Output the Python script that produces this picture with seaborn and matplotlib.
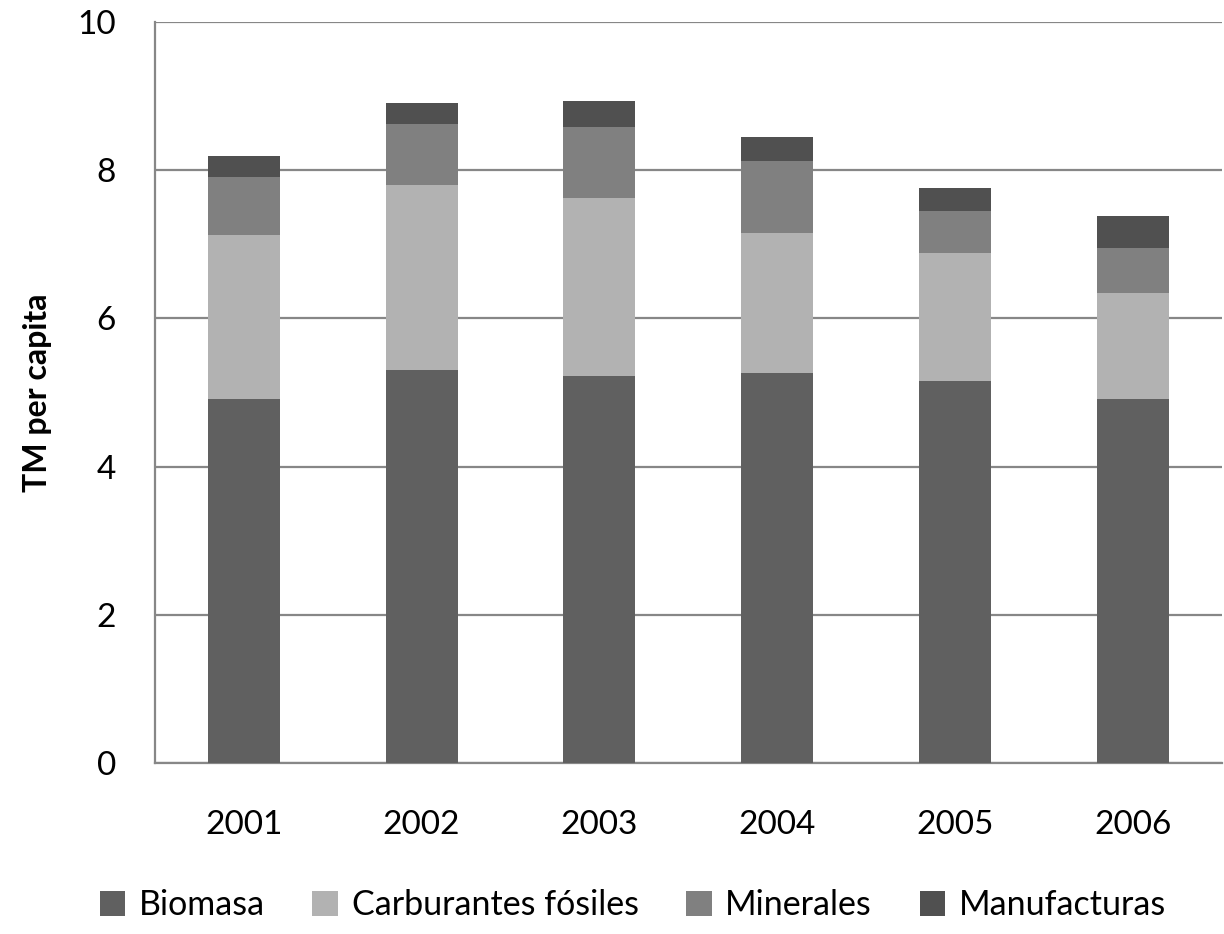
import numpy as np
import pandas as pd
import matplotlib
matplotlib.use("Agg")
import matplotlib.pyplot as plt
import seaborn as sns
from matplotlib.patches import Patch

years = ["2001", "2002", "2003", "2004", "2005", "2006"]
biomasa = [4.91, 5.30, 5.22, 5.26, 5.16, 4.91]
carburantes = [2.22, 2.50, 2.40, 1.89, 1.72, 1.43]
minerales = [0.78, 0.82, 0.96, 0.97, 0.57, 0.61]
manufacturas = [0.28, 0.29, 0.35, 0.33, 0.31, 0.43]
series_names = ["Biomasa", "Carburantes fósiles", "Minerales", "Manufacturas"]
colors = ["#606060", "#b2b2b2", "#808080", "#505050"]

sns.set_style("white")
plt.rcParams['font.family'] = ['Lato', 'DejaVu Sans']
plt.rcParams['text.color'] = 'black'
plt.rcParams['xtick.labelcolor'] = 'black'
plt.rcParams['ytick.labelcolor'] = 'black'
plt.rcParams['axes.labelcolor'] = 'black'

fig = plt.figure(figsize=(12.24, 9.34), dpi=100)
ax = fig.add_axes([0.1266, 0.1831, 0.8714, 0.7933])

layers = [biomasa, carburantes, minerales, manufacturas]
cum = np.cumsum(np.array(layers), axis=0)
# draw from top (total) down so lower segments overlay
for i in range(len(layers) - 1, -1, -1):
    df = pd.DataFrame({"year": years, "value": cum[i]})
    sns.barplot(data=df, x="year", y="value", color=colors[i], width=0.405,
                saturation=1, ax=ax, linewidth=0, zorder=3)

ax.set_ylim(0, 10)
ax.set_xlim(-0.5, 5.5)
ax.set_yticks([0, 2, 4, 6, 8, 10])
ax.yaxis.grid(True, color="#878787", linewidth=1.6, zorder=0)
ax.set_axisbelow(True)

for s in ["top", "right"]:
    ax.spines[s].set_visible(False)
for s in ["left", "bottom"]:
    ax.spines[s].set_color("#878787")
    ax.spines[s].set_linewidth(1.6)

ax.set_xticks(np.arange(-0.5, 6.0, 1.0), minor=True)
ax.tick_params(axis="x", which="major", length=0, pad=34, labelsize=24)
ax.tick_params(axis="x", which="minor", length=9, width=1.6, color="#878787", direction="out")
ax.tick_params(axis="y", length=12, width=1.6, color="#878787", direction="out", labelsize=24, pad=16)
ax.set_xlabel("")
ax.set_ylabel("TM per capita", fontsize=23, fontweight="bold", labelpad=18)

handles = [Patch(facecolor=c, edgecolor="none") for c in colors]
fig.legend(handles, series_names, loc="center", bbox_to_anchor=(0.517, 0.031),
           ncol=4, frameon=False, fontsize=24.5, handlelength=0.75, handleheight=0.75,
           handletextpad=0.4, columnspacing=1.4)

fig.savefig("out.png", dpi=100)
